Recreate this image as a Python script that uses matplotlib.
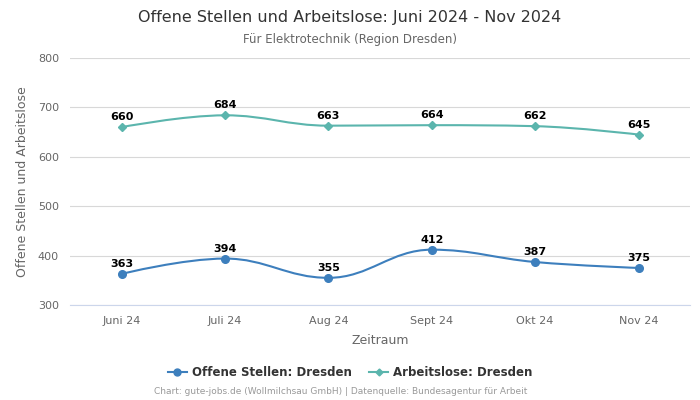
import numpy as np
import matplotlib
matplotlib.use("Agg")
import matplotlib.pyplot as plt
from matplotlib.path import Path
from matplotlib.patches import PathPatch
from matplotlib.lines import Line2D

monate = ["Juni 24", "Juli 24", "Aug 24", "Sept 24", "Okt 24", "Nov 24"]
offene_stellen = [363, 394, 355, 412, 387, 375]
arbeitslose = [660, 684, 663, 664, 662, 645]

blau = "#3d7fbd"
tuerkis = "#5bb5ad"


def spline_path(xs, ys, smoothing=1.5):
    # Bezier-Kurve wie beim Highcharts "spline"
    n = len(xs)
    verts = [(xs[0], ys[0])]
    codes = [Path.MOVETO]
    right_prev = (xs[0], ys[0])
    for i in range(1, n):
        x, y = xs[i], ys[i]
        if i < n - 1:
            lx, ly = xs[i - 1], ys[i - 1]
            nx, ny = xs[i + 1], ys[i + 1]
            d = smoothing + 1
            lcx = (smoothing * x + lx) / d
            lcy = (smoothing * y + ly) / d
            rcx = (smoothing * x + nx) / d
            rcy = (smoothing * y + ny) / d
            if rcx != lcx:
                corr = (rcy - lcy) * (rcx - x) / (rcx - lcx) + y - rcy
                lcy += corr
                rcy += corr
            if lcy > ly and lcy > y:
                lcy = max(ly, y)
                rcy = 2 * y - lcy
            elif lcy < ly and lcy < y:
                lcy = min(ly, y)
                rcy = 2 * y - lcy
            if rcy > ny and rcy > y:
                rcy = max(ny, y)
                lcy = 2 * y - rcy
            elif rcy < ny and rcy < y:
                rcy = min(ny, y)
                lcy = 2 * y - rcy
            left = (lcx, lcy)
            right = (rcx, rcy)
        else:
            left = (x, y)
            right = (x, y)
        verts += [right_prev, left, (x, y)]
        codes += [Path.CURVE4] * 3
        right_prev = right
    return Path(verts, codes)


fig = plt.figure(figsize=(7, 4), dpi=100)
ax = fig.add_axes([0.1, 0.2375, 0.886, 0.6175])

x = np.arange(len(monate))
for werte, farbe, marker, ms in [(arbeitslose, tuerkis, "D", 4), (offene_stellen, blau, "o", 5.5)]:
    ax.add_patch(PathPatch(spline_path(x, werte), facecolor="none", edgecolor=farbe, lw=1.5, zorder=3))
    ax.plot(x, werte, ls="none", marker=marker, ms=ms, color=farbe, zorder=4)
    for xi, v in zip(x, werte):
        ax.annotate(str(v), (xi, v), xytext=(0, 3.5), textcoords="offset points",
                    ha="center", va="bottom", fontsize=8, fontweight="bold", color="black", zorder=5)

ax.set_xlim(-0.5, len(monate) - 0.5)
ax.set_ylim(300, 800)
ax.set_yticks(range(300, 801, 100))
ax.set_xticks(x)
ax.set_xticklabels(monate)
ax.grid(axis="y", color="#d8d8d8", lw=0.8)
ax.set_axisbelow(True)
for s in ["top", "right", "left"]:
    ax.spines[s].set_visible(False)
ax.spines["bottom"].set_color("#ccd6eb")
ax.tick_params(axis="both", length=0, labelsize=8, colors="#666666", pad=8)
ax.set_xlabel("Zeitraum", fontsize=9, color="#666666", labelpad=6)
ax.set_ylabel("Offene Stellen und Arbeitslose", fontsize=9, color="#666666", labelpad=6)

fig.text(0.5, 0.957, "Offene Stellen und Arbeitslose: Juni 2024 - Nov 2024",
         ha="center", va="center", fontsize=11.5, color="#333333")
fig.text(0.5, 0.902, "Für Elektrotechnik (Region Dresden)",
         ha="center", va="center", fontsize=8.5, color="#666666")

handles = [
    Line2D([], [], color=blau, marker="o", ms=5, lw=1.5),
    Line2D([], [], color=tuerkis, marker="D", ms=3.5, lw=1.5),
]
leg = fig.legend(handles, ["Offene Stellen: Dresden", "Arbeitslose: Dresden"],
                 loc="center", bbox_to_anchor=(0.5, 0.0675), ncol=2, frameon=False,
                 handlelength=1.6, columnspacing=1.5, handletextpad=0.4,
                 prop={"size": 8.5, "weight": "bold"})
for t in leg.get_texts():
    t.set_color("#333333")

fig.text(0.486, 0.02, "Chart: gute-jobs.de (Wollmilchsau GmbH) | Datenquelle: Bundesagentur für Arbeit",
         ha="center", va="center", fontsize=6.5, color="#999999")

fig.savefig("out.png", dpi=100, facecolor="white")
